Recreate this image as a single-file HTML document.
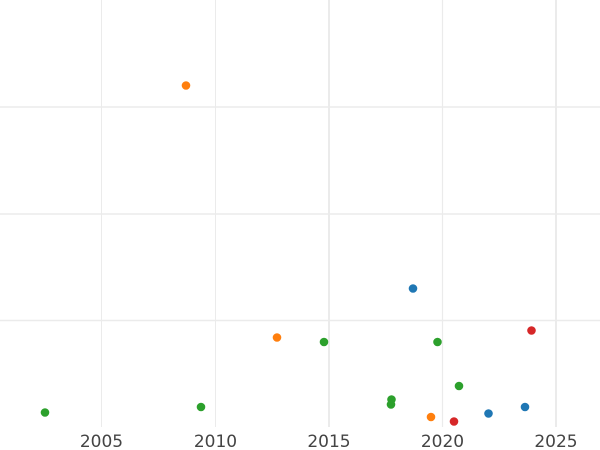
<!DOCTYPE html>
<html><head><meta charset="utf-8"><style>html,body{margin:0;padding:0;background:#fff}svg{display:block}</style></head>
<body>
<svg width="600" height="450" xmlns="http://www.w3.org/2000/svg">
<g stroke="#ebebeb">
<line x1="0" y1="107" x2="600" y2="107" stroke-width="1.5"/>
<line x1="0" y1="214" x2="600" y2="214" stroke-width="1.5"/>
<line x1="0" y1="320.5" x2="600" y2="320.5" stroke-width="1.5"/>
<line x1="101.5" y1="0" x2="101.5" y2="427" stroke-width="1"/>
<line x1="215.5" y1="0" x2="215.5" y2="427" stroke-width="1"/>
<line x1="329" y1="0" x2="329" y2="427" stroke-width="2"/>
<line x1="442.5" y1="0" x2="442.5" y2="427" stroke-width="1.2"/>
<line x1="556" y1="0" x2="556" y2="427" stroke-width="2"/>
</g>
<g font-family="DejaVu Sans, sans-serif" font-size="17" fill="#444" text-anchor="middle">
<text x="101.5" y="447">2005</text>
<text x="215.5" y="447">2010</text>
<text x="329" y="447">2015</text>
<text x="442.5" y="447">2020</text>
<text x="556" y="447">2025</text>
</g>
<g fill="#ff7f0e"><circle cx="186" cy="85.5" r="4.3"/><circle cx="277" cy="337.5" r="4.3"/><circle cx="431" cy="417" r="4.3"/></g>
<g fill="#1f77b4"><circle cx="413" cy="288.5" r="4.3"/><circle cx="488.5" cy="413.5" r="4.3"/><circle cx="525" cy="407" r="4.3"/></g>
<g fill="#2ca02c"><circle cx="45" cy="412.5" r="4.3"/><circle cx="201" cy="407" r="4.3"/><circle cx="324" cy="342" r="4.3"/><circle cx="391.5" cy="399.5" r="4.3"/><circle cx="391" cy="404.5" r="4.3"/><circle cx="437.5" cy="342" r="4.3"/><circle cx="459" cy="386" r="4.3"/></g>
<g fill="#d62728"><circle cx="531.5" cy="330.5" r="4.3"/><circle cx="454" cy="421.5" r="4.3"/></g>
</svg>
</body></html>
